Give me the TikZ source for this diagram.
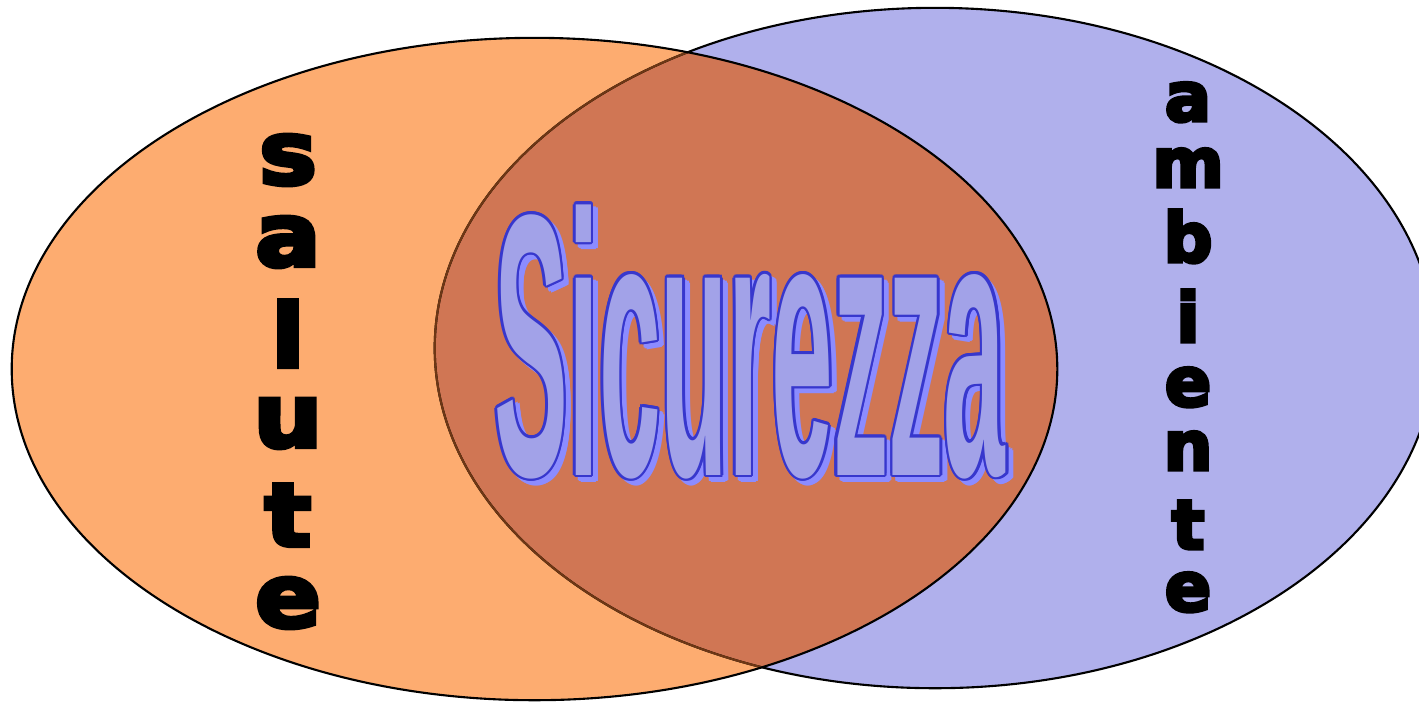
\documentclass[tikz,border=0pt]{standalone}
\usepackage{fontspec}
\usetikzlibrary{calc}
\newfontfamily\heavyfont{DejaVu Sans}[FakeBold=5]
\newfontfamily\wordfont{Liberation Sans}
\definecolor{salorange}{RGB}{253,172,112}
\definecolor{ambblue}{RGB}{176,176,236}
\definecolor{overlap}{RGB}{208,118,84}
\definecolor{arcbrown}{RGB}{110,55,20}
\definecolor{wordline}{RGB}{55,55,205}
\definecolor{wordfill}{RGB}{162,162,232}
\definecolor{wordshadow}{RGB}{140,140,255}

\begin{document}
\begin{tikzpicture}[x=0.01cm,y=-0.01cm,
    rim/.style={line width=0.6pt},
    letter/.style={inner sep=0pt,anchor=base,text=black},
    salletter/.style={letter,xscale=1.1,font=\heavyfont\bfseries\fontsize{25}{25}\selectfont},
    ambletter/.style={letter,xscale=1.0,font=\heavyfont\bfseries\fontsize{19.5}{19.5}\selectfont},
    word/.style={inner sep=0pt,anchor=base,xscale=1.05,yscale=3.54,font=\wordfont\bfseries\fontsize{30}{30}\selectfont}]
        \useasboundingbox (0,0) rectangle (1419,702);
        \clip (0,0) rectangle (1419,702);
        % the two sets
        \fill[ambblue] (935,348) ellipse [x radius=5cm,y radius=3.4cm];
        \fill[salorange] (534.5,369) ellipse [x radius=5.225cm,y radius=3.31cm];
        \begin{scope}
          \clip (534.5,369) ellipse [x radius=5.225cm,y radius=3.31cm];
          \fill[overlap] (935,348) ellipse [x radius=5cm,y radius=3.4cm];
        \end{scope}
        \draw[rim] (935,348) ellipse [x radius=5cm,y radius=3.4cm];
        \begin{scope}
          \clip (534.5,369) ellipse [x radius=5.225cm,y radius=3.31cm];
          \draw[rim,arcbrown] (935,348) ellipse [x radius=5cm,y radius=3.4cm];
        \end{scope}
        \draw[rim] (534.5,369) ellipse [x radius=5.225cm,y radius=3.31cm];
        % vertical words
        \foreach \ch/\yb [count=\i] in {s/184,a/266,l/367,u/447,t/546,e/627}
          \node[salletter] (sal\i) at (288,\yb) {\ch};
        \foreach \ch/\yb [count=\i] in {a/121,m/187,b/262,i/342,e/406,n/470,t/549,e/611}
          \node[ambletter] (amb\i) at (1188,\yb) {\ch};
        % Sicurezza: shadow, rim, fill
        \coordinate (sicpos) at (750,475);
        \foreach \a [count=\i] in {0,45,...,315}
          \node[word,text=wordshadow] (shad\i) at ($(sicpos)+(5,5)+(\a:2.5)$) {Sicurezza};
        \foreach \a [count=\i] in {0,30,...,330}
          \node[word,text=wordline] (rim\i) at ($(sicpos)+(\a:2.5)$) {Sicurezza};
        \node[word,text=wordfill] (sic) at (sicpos) {Sicurezza};
      \end{tikzpicture}
\end{document}
